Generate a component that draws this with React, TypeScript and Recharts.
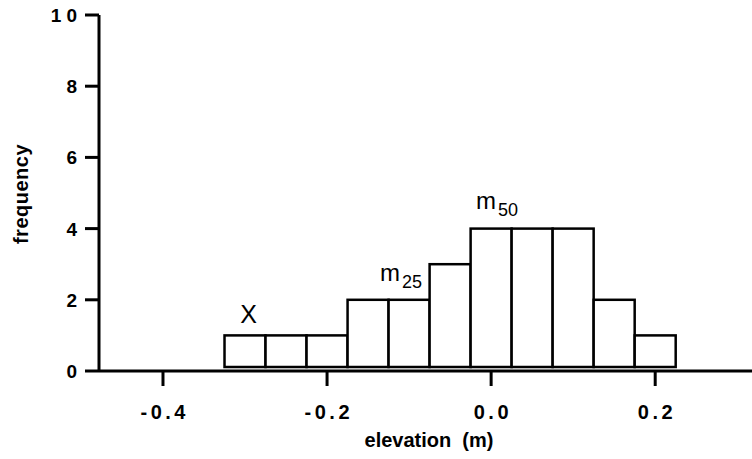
import { Bar, BarChart, Label, LabelList, XAxis, YAxis } from "recharts";

const binCenters = [-0.3, -0.25, -0.2, -0.15, -0.1, -0.05, 0, 0.05, 0.1, 0.15, 0.2];
const frequencies = [1, 1, 1, 2, 2, 3, 4, 4, 4, 2, 1];
const notes = ["X", "", "", "", "m_25", "", "m_50", "", "", "", ""];
const xTicks = [-0.4, -0.2, 0, 0.2];
const yTicks = [0, 2, 4, 6, 8, 10];

const data = binCenters.map((x, i) => ({ x, count: frequencies[i], note: notes[i] }));

const FONT = "'Liberation Sans', Arial, Helvetica, sans-serif";

// nudges for the hand-placed annotations
const noteStyle: Record<string, { dx: number; dy: number; anchor: "start" | "middle" }> = {
  X: { dx: 3.5, dy: -12, anchor: "middle" },
  m_25: { dx: -29, dy: -19, anchor: "start" },
  m_50: { dx: -15, dy: -20, anchor: "start" },
};

const HistBar = (props: any) => {
  const { x, y, width, height } = props;
  if (!height) return null;
  return (
    <rect
      x={x}
      y={y}
      width={width}
      height={Math.max(height - 4, 0)}
      fill="#fff"
      stroke="#000"
      strokeWidth={2.5}
    />
  );
};

const renderNote = (props: any) => {
  const { x, y, width, value } = props;
  if (!value) return null;
  const [main, sub] = String(value).split("_");
  const s = noteStyle[value];
  return (
    <text
      x={x + width / 2 + s.dx}
      y={y + s.dy}
      textAnchor={s.anchor}
      fontFamily={FONT}
      fontSize={main === "X" ? 25 : 24}
      fill="#000"
    >
      {main}
      {sub && (
        <tspan fontSize={18} dx={2} dy={7}>
          {sub}
        </tspan>
      )}
    </text>
  );
};

const XTick = (props: any) => {
  const { x, y, payload } = props;
  const v = Number(payload.value);
  return (
    <text
      x={x + 1.75}
      y={y + 33}
      textAnchor="middle"
      fontFamily={FONT}
      fontWeight="bold"
      fontSize={20}
      letterSpacing={3.5}
      fill="#000"
    >
      {v.toFixed(1)}
    </text>
  );
};

const YTick = (props: any) => {
  const { x, y, payload } = props;
  return (
    <text
      x={x - 3}
      y={y + 7}
      textAnchor="end"
      fontFamily={FONT}
      fontWeight="bold"
      fontSize={19}
      letterSpacing={5}
      fill="#000"
    >
      {payload.value}
    </text>
  );
};

const XTitle = (props: any) => {
  const { viewBox } = props;
  return (
    <text
      x={viewBox.x + viewBox.width / 2 + 3.5}
      y={viewBox.y + 76}
      textAnchor="middle"
      fontFamily={FONT}
      fontWeight="bold"
      fontSize={20}
      fill="#000"
      style={{ whiteSpace: "pre" }}
    >
      {"elevation  (m)"}
    </text>
  );
};

const YTitle = (props: any) => {
  const { viewBox } = props;
  const cx = viewBox.x + 28;
  const cy = viewBox.y + viewBox.height / 2 + 1;
  return (
    <text
      x={cx}
      y={cy}
      transform={`rotate(-90, ${cx}, ${cy})`}
      textAnchor="middle"
      fontFamily={FONT}
      fontWeight="bold"
      fontSize={20}
      letterSpacing={0.5}
      fill="#000"
    >
      frequency
    </text>
  );
};

export default function App() {
  return (
    <div style={{ position: "absolute", left: 0, top: 0, background: "#fff" }}>
      <BarChart
        width={752}
        height={459}
        data={data}
        margin={{ top: 15, right: 0, left: 0, bottom: 0 }}
      >
        <XAxis
          dataKey="x"
          type="number"
          domain={[-0.478, 0.318]}
          ticks={xTicks}
          allowDataOverflow
          height={88}
          tickSize={15}
          tickMargin={0}
          axisLine={{ stroke: "#000", strokeWidth: 3 }}
          tickLine={{ stroke: "#000", strokeWidth: 3 }}
          tick={<XTick />}
        >
          <Label content={<XTitle />} />
        </XAxis>
        <YAxis
          type="number"
          domain={[0, 10]}
          ticks={yTicks}
          width={99}
          tickSize={14}
          tickMargin={0}
          axisLine={{ stroke: "#000", strokeWidth: 3 }}
          tickLine={{ stroke: "#000", strokeWidth: 3 }}
          tick={<YTick />}
        >
          <Label content={<YTitle />} />
        </YAxis>
        <Bar dataKey="count" barSize={41} shape={<HistBar />} isAnimationActive={false}>
          <LabelList dataKey="note" content={renderNote} />
        </Bar>
      </BarChart>
    </div>
  );
}
